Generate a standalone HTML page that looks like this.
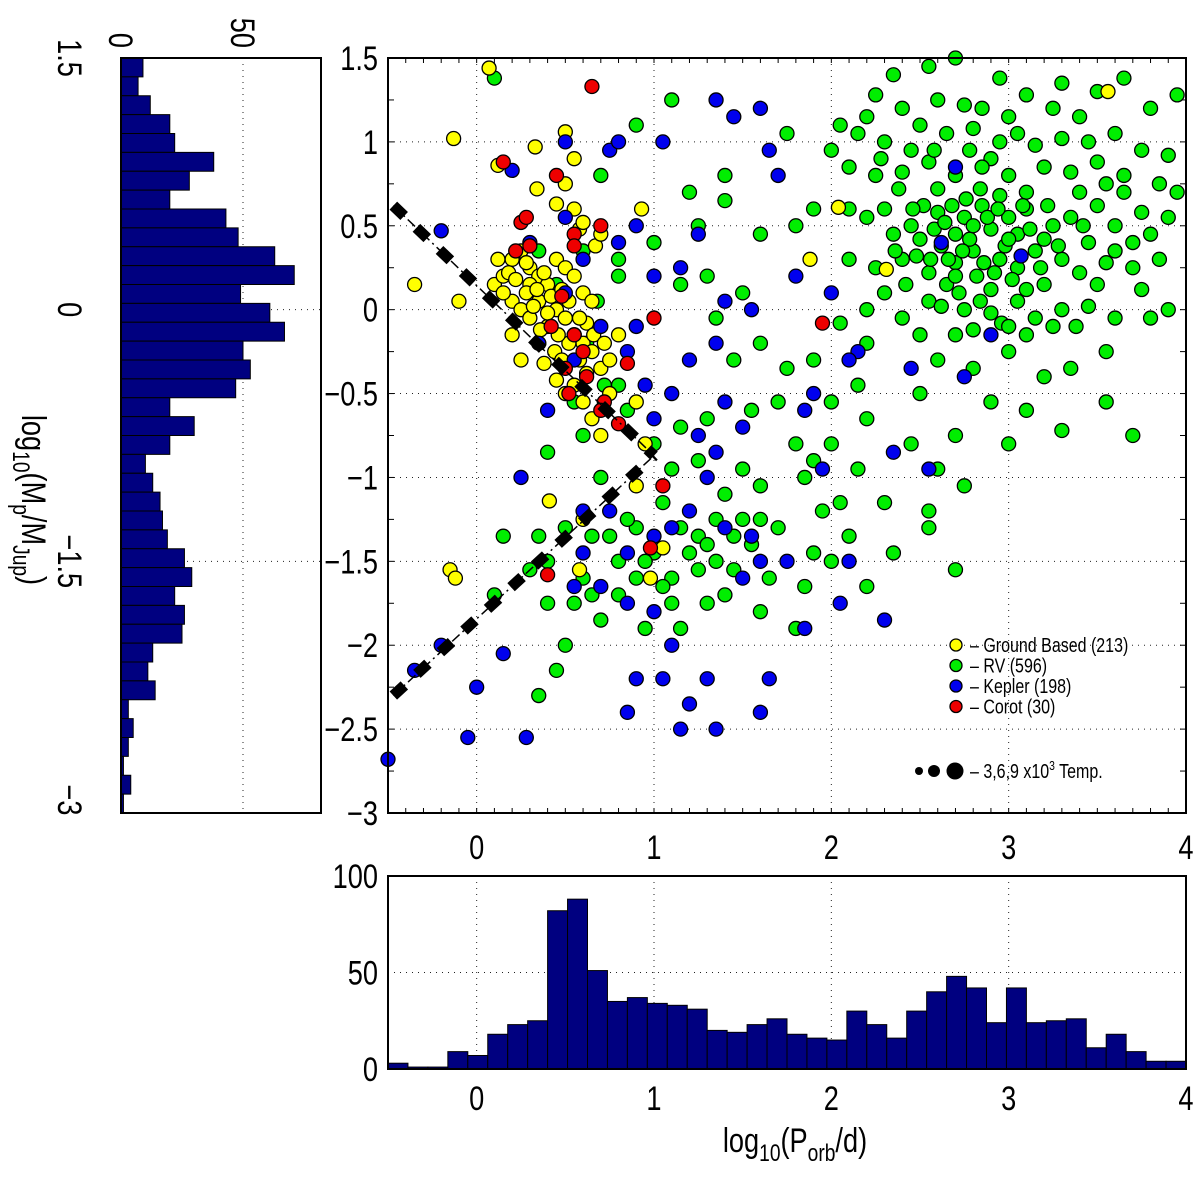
<!DOCTYPE html>
<html><head><meta charset="utf-8"><style>
html,body{margin:0;padding:0;background:#fff;}
svg{display:block;font-family:"Liberation Sans",sans-serif;}
</style></head><body>
<svg id="fig" width="1200" height="1177" viewBox="0 0 1200 1177" xmlns="http://www.w3.org/2000/svg">
<g id="main"></g>
<g id="bottom"></g>
<g id="left"></g>
</svg>
<script>
// ---------- data ----------
const periodHistCounts = [3,1,1,9,7,18,23,25,82,88,51,35,37,34,33,31,20,19,23,26,18,16,15,30,23,16,30,40,48,42,24,42,24,25,26,11,18,9,4,4];
const massHistCounts = [9,7,12,20,22,38,28,20,43,48,63,71,49,61,67,50,53,47,20,30,20,10,13,16,17,19,26,29,22,26,25,13,11,14,3,5,3,1,4,1];
const xTicks = [0,1,2,3,4];
const yTicks = [1.5,1,0.5,0,-0.5,-1,-1.5,-2,-2.5,-3];
const yTickLabels = ["1.5","1","0.5","0","\u22120.5","\u22121","\u22121.5","\u22122","\u22122.5","\u22123"];
const leftTicks = [1.5,0,-1.5,-3];
const leftTickLabels = ["1.5","0","\u22121.5","\u22123"];
const countTicks = [0,50];
const bottomTicks = [0,50,100];
const groundBased = [[0.07,1.44],[-0.13,1.02],[0.12,0.86],[0.33,0.97],[0.5,1.06],[0.55,0.9],[0.34,0.72],[0.5,0.75],[0.55,0.6],[0.45,0.63],[0.58,0.48],[0.6,0.52],[0.67,0.38],[0.7,0.45],[0.93,0.6],[-0.1,0.05],[-0.35,0.15],[0.1,0.15],[0.15,0.2],[0.2,0.3],[0.25,0.35],[0.3,0.25],[0.35,0.2],[0.4,0.15],[0.45,0.3],[0.5,0.25],[0.55,0.2],[0.6,0.1],[0.65,0.05],[0.2,0.05],[0.25,0.0],[0.3,-0.05],[0.35,0.05],[0.4,-0.1],[0.45,0.0],[0.5,-0.05],[0.55,-0.15],[0.6,-0.2],[0.65,-0.25],[0.3,0.15],[0.38,0.22],[0.42,0.08],[0.48,0.12],[0.52,-0.2],[0.58,-0.3],[0.7,-0.35],[0.75,-0.5],[0.45,-0.42],[0.5,-0.5],[0.55,-0.45],[0.6,-0.55],[0.65,-0.65],[0.7,-0.75],[0.9,-0.55],[0.95,-0.8],[0.75,-0.3],[0.8,-0.15],[0.2,-0.15],[0.25,-0.3],[0.35,-0.2],[0.12,0.3],[0.28,0.1],[0.36,-0.12],[0.44,-0.25],[0.62,-0.08],[0.18,0.22],[0.15,0.1],[0.22,0.18],[0.32,0.02],[0.4,-0.02],[0.46,-0.15],[0.52,0.05],[0.58,-0.05],[0.66,-0.15],[0.72,-0.2],[0.38,-0.32],[0.48,-0.3],[0.62,-0.38],[0.28,0.28],[0.34,0.12],[-0.15,-1.55],[-0.12,-1.6],[0.98,-1.6],[0.6,-1.25],[0.41,-1.14],[0.58,-1.55],[0.9,-1.05],[3.56,1.3],[1.88,0.3],[2.04,0.61],[2.31,0.24],[1.05,-1.42]];
const rv = [[2.55,1.45],[2.7,1.5],[2.95,1.38],[3.65,1.38],[3.95,1.28],[2.35,1.4],[3.5,1.3],[2.6,1.25],[2.75,1.22],[2.85,1.2],[3.1,1.28],[3.25,1.2],[2.4,1.2],[2.2,1.15],[3.4,1.15],[3.8,1.2],[2.15,1.05],[2.3,1.0],[2.5,1.1],[2.65,1.05],[2.8,1.08],[2.95,1.0],[3.05,1.05],[3.15,0.98],[3.3,1.02],[3.45,1.0],[3.6,1.05],[3.75,0.95],[3.9,0.92],[2.0,0.95],[2.45,0.95],[2.9,0.9],[2.1,0.85],[2.25,0.8],[2.4,0.82],[2.55,0.88],[2.7,0.8],[2.85,0.85],[3.0,0.8],[3.2,0.85],[3.35,0.82],[3.5,0.88],[3.65,0.8],[3.85,0.75],[2.6,0.72],[3.1,0.7],[3.4,0.7],[2.95,0.68],[2.1,0.6],[2.2,0.55],[2.3,0.6],[2.45,0.5],[2.6,0.58],[2.75,0.55],[2.85,0.62],[3.0,0.55],[3.1,0.6],[3.25,0.5],[3.35,0.55],[3.5,0.62],[3.6,0.5],[3.75,0.58],[3.9,0.55],[2.5,0.42],[2.7,0.45],[2.9,0.48],[3.2,0.42],[3.45,0.4],[3.7,0.4],[2.35,0.45],[3.05,0.45],[2.1,0.3],[2.25,0.25],[2.4,0.3],[2.55,0.22],[2.7,0.28],[2.8,0.35],[2.95,0.3],[3.05,0.25],[3.15,0.35],[3.3,0.3],[3.4,0.22],[3.55,0.28],[3.7,0.25],[3.85,0.3],[2.65,0.15],[2.9,0.12],[3.2,0.15],[3.5,0.15],[3.75,0.12],[2.3,0.1],[2.2,0.0],[2.4,-0.05],[2.55,0.05],[2.75,0.0],[2.9,-0.02],[3.05,0.05],[3.15,-0.05],[3.3,0.0],[3.45,0.02],[3.6,-0.05],[3.9,0.0],[2.05,-0.08],[3.25,-0.1],[2.62,0.38],[2.68,0.62],[2.78,0.42],[2.82,0.2],[2.88,0.55],[2.98,0.38],[3.02,0.18],[2.72,0.1],[2.58,0.48],[2.48,0.32],[2.42,0.15],[2.52,0.62],[3.08,0.62],[3.12,0.48],[2.84,0.72],[2.76,0.66],[2.66,0.3],[2.92,0.22],[3.18,0.25],[2.64,0.52],[2.74,0.35],[2.86,0.28],[2.94,0.6],[2.56,0.3],[2.46,0.6],[2.36,0.35],[2.8,0.5],[2.7,0.2],[3.0,0.42],[3.1,0.12],[3.22,0.62],[3.28,0.38],[3.42,0.5],[3.6,0.35],[3.8,0.45],[2.58,0.95],[2.78,0.95],[3.0,1.15],[2.62,0.02],[2.84,0.05],[2.96,-0.08],[3.1,-0.15],[2.7,-0.15],[2.38,0.72],[2.28,0.9],[3.55,0.75],[3.95,0.7],[2.5,-0.15],[2.8,-0.12],[3.0,-0.1],[3.38,-0.1],[2.6,-0.3],[2.8,-0.35],[3.0,-0.25],[3.2,-0.4],[3.35,-0.35],[3.55,-0.55],[2.5,-0.5],[2.9,-0.55],[3.1,-0.6],[2.7,-0.75],[3.0,-0.8],[3.3,-0.72],[3.7,-0.75],[2.45,-0.8],[2.6,-0.95],[2.75,-1.05],[2.55,-1.2],[2.15,-0.45],[2.2,-0.65],[2.0,-0.8],[1.9,-0.9],[0.1,1.38],[1.1,1.25],[0.7,0.8],[1.2,0.7],[0.6,0.35],[0.8,0.3],[1.0,0.4],[1.15,0.15],[1.3,0.2],[1.35,-0.05],[1.5,0.1],[1.45,-0.3],[1.6,-0.2],[1.75,-0.35],[1.7,-0.55],[1.55,-0.6],[1.3,-0.65],[1.25,-0.9],[1.4,-1.1],[1.5,-0.95],[1.6,-1.05],[1.8,-0.8],[1.85,-1.0],[1.95,-1.2],[1.7,-1.3],[1.55,-1.4],[1.45,-1.55],[1.2,-1.45],[1.1,-1.6],[1.0,-1.45],[0.9,-1.6],[0.8,-1.7],[0.7,-1.85],[0.6,-1.6],[0.55,-1.75],[0.5,-2.0],[0.35,-2.3],[0.4,-1.5],[0.5,-1.3],[0.3,-1.55],[0.95,-1.9],[1.15,-1.9],[1.3,-1.75],[1.6,-1.8],[1.8,-1.9],[1.85,-1.65],[2.0,-1.5],[2.2,-1.65],[2.35,-1.45],[2.55,-1.3],[2.1,-1.35],[0.9,-1.3],[1.05,-1.15],[1.1,-0.95],[0.7,-1.0],[0.6,-0.75],[0.8,-0.45],[0.4,-0.85],[0.75,-1.35],[1.25,-1.35],[1.35,-1.5],[2.7,-1.55],[2.3,-1.15],[2.15,-0.95],[2.0,-0.55],[1.8,0.5],[1.9,0.6],[1.6,0.45],[1.4,0.65],[1.25,0.5],[0.9,1.1],[1.4,0.8],[0.4,-1.75],[0.45,-2.15],[0.1,-1.7],[0.15,-1.35],[0.35,-1.35],[0.62,-0.2],[0.68,0.05],[0.72,-0.45],[0.55,-0.55],[0.45,0.15],[0.35,0.35],[0.8,0.2],[0.85,-0.6],[1.0,-0.8],[1.15,-0.7],[1.05,-1.65],[1.35,-1.25],[1.5,-1.25],[1.65,-1.6],[0.65,-1.35],[0.8,-1.5],[1.9,-1.45],[2.05,-1.15],[1.9,-0.3],[2.2,-0.2],[3.55,-0.25],[3.8,-0.05],[3.65,0.7],[3.3,1.35],[2.25,1.28],[1.75,1.05],[2.05,1.1],[1.15,-1.3],[1.3,-1.4],[1.45,-1.35],[1.6,-1.25],[1.25,-1.55],[0.95,-1.5],[0.85,-1.25],[1.1,-1.75],[1.4,-1.7],[0.65,-1.7]];
const kepler = [[0.2,0.83],[0.5,1.0],[0.75,0.95],[0.8,1.0],[1.05,1.0],[1.35,1.25],[1.45,1.15],[1.6,1.2],[1.65,0.95],[1.7,0.8],[0.9,0.5],[0.8,0.4],[1.0,0.2],[1.15,0.25],[1.2,-0.3],[1.35,-0.2],[1.55,0.0],[1.8,0.2],[2.0,0.1],[2.15,-0.25],[2.1,-0.3],[1.9,-0.5],[-0.2,0.47],[0.5,0.55],[0.6,0.3],[0.3,0.4],[0.5,0.1],[0.55,-0.3],[0.7,-0.1],[0.85,-0.25],[0.9,-0.1],[1.1,-0.5],[1.0,-0.65],[0.95,-0.45],[1.25,-0.75],[1.35,-0.85],[1.5,-0.7],[1.4,-0.55],[1.3,-1.0],[1.2,-1.2],[1.1,-1.3],[1.0,-1.35],[0.85,-1.45],[0.75,-1.2],[0.6,-1.45],[0.55,-1.65],[0.7,-1.65],[0.85,-1.75],[1.0,-1.8],[1.1,-2.0],[0.9,-2.2],[0.85,-2.4],[1.05,-2.2],[1.2,-2.35],[1.3,-2.2],[1.6,-2.4],[1.65,-2.2],[1.85,-1.9],[1.5,-1.6],[1.6,-1.5],[1.4,-1.3],[1.75,-1.5],[2.05,-1.75],[2.3,-1.85],[0.0,-2.25],[-0.2,-2.0],[0.15,-2.05],[-0.5,-2.68],[-0.05,-2.55],[0.28,-2.55],[1.15,-2.5],[1.35,-2.5],[-0.35,-2.15],[1.55,-1.35],[1.95,-0.95],[2.35,-0.85],[2.55,-0.95],[2.45,-0.35],[2.75,-0.4],[2.9,-0.15],[2.62,0.4],[3.07,0.32],[2.7,0.85],[1.4,0.05],[1.25,0.45],[1.85,-0.6],[2.1,-1.5],[0.4,-0.6],[0.35,-0.2],[0.6,-1.2],[0.25,-1.0]];
const corot = [[0.65,1.33],[0.45,0.8],[0.15,0.88],[0.25,0.52],[0.28,0.55],[0.55,0.45],[0.55,0.38],[0.22,0.35],[0.3,0.38],[0.7,0.5],[0.48,0.08],[0.55,-0.15],[0.6,-0.25],[0.5,-0.35],[0.62,-0.4],[0.52,-0.5],[0.72,-0.55],[0.85,-0.32],[1.0,-0.05],[1.05,-1.05],[0.98,-1.42],[0.4,-1.58],[1.95,-0.08],[0.7,-0.6],[0.8,-0.68],[0.42,-0.1]];
const upperLine = [[-0.47,0.62],[1.0,-0.87]];
const lowerLine = [[-0.47,-2.3],[1.0,-0.87]];
const legendLabels = ["\u2013 Ground Based (213)","\u2013 RV (596)","\u2013 Kepler (198)","\u2013 Corot (30)"];
const legendColors = ["#ffff00","#00ee00","#0000ee","#ee0000"];

// ---------- scales ----------
const X0=388,X1=1186,Y0=58,Y1=813;
const sx = v => X0 + (v+0.5)/4.5*(X1-X0);
const sy = v => Y0 + (1.5-v)/4.5*(Y1-Y0);
const BY0=876,BY1=1069;
const sby = c => BY1 - c/100*(BY1-BY0);
const LX0=121,LX1=321;
const slx = c => LX0 + c*2.44;
const FS=34, SXF=0.8;

const NS="http://www.w3.org/2000/svg";
function mk(parent,tag,attrs){const e=document.createElementNS(NS,tag);for(const k in attrs)e.setAttribute(k,attrs[k]);parent.appendChild(e);return e;}
function txt(parent,x,y,anchor,size,str,rot){const e=mk(parent,'text',{x:0,y:0,"text-anchor":anchor,"font-size":size,transform:`translate(${x},${y})${rot?' rotate(90)':''} scale(${SXF},1)`});e.textContent=str;return e;}
const main=document.getElementById('main'),bottom=document.getElementById('bottom'),left=document.getElementById('left');
const grid={stroke:"#222","stroke-width":1,"stroke-dasharray":"1 5"};

// ---------- main panel ----------
xTicks.forEach(t=>{const l=mk(main,'line',Object.assign({x1:sx(t),x2:sx(t),y1:Y0,y2:Y1},grid));

});
yTicks.forEach(t=>{const l=mk(main,'line',Object.assign({x1:X0,x2:X1,y1:sy(t),y2:sy(t)},grid));

});
for(let i=1;i<45;i++){const v=-0.5+i*0.1;const xx=sx(v);
 const a=mk(main,'line',{x1:xx,x2:xx,y1:Y0,y2:Y0+5,stroke:"#000","stroke-width":1});
 
 
 const b=mk(main,'line',{x1:xx,x2:xx,y1:Y1,y2:Y1-5,stroke:"#000","stroke-width":1});
 
 }
for(let i=1;i<18;i++){const v=1.5-i*0.25;const yy=sy(v);
 const a=mk(main,'line',{x1:X0,x2:X0+6,y1:yy,y2:yy,stroke:"#000","stroke-width":1});
 
 
 const b=mk(main,'line',{x1:X1,x2:X1-6,y1:yy,y2:yy,stroke:"#000","stroke-width":1});
 
 }

function drawPts(arr,color,name,r){arr.forEach(p=>{const c=mk(main,'circle',{cx:sx(p[0]),cy:sy(p[1]),r:r,fill:color,stroke:"#000","stroke-width":1.3});

});}
drawPts(rv,"#00ee00","rv-planet",7);
drawPts(groundBased,"#ffff00","ground-based-planet",7);
drawPts(kepler,"#0000ee","kepler-planet",7);
drawPts(corot,"#ee0000","corot-planet",7);

function drawLine(seg,name){const a={x1:sx(seg[0][0]),y1:sy(seg[0][1]),x2:sx(seg[1][0]),y2:sy(seg[1][1])};
 const t=mk(main,'line',Object.assign({stroke:"#000","stroke-width":1.5,"stroke-dasharray":"10 4 2 4"},a));
 
 
 const k=mk(main,'line',Object.assign({stroke:"#000","stroke-width":11,"stroke-dasharray":"15 17"},a));
 
 }
drawLine(upperLine,'upper-boundary-line');
drawLine(lowerLine,'lower-boundary-line');

const box=mk(main,'rect',{x:X0,y:Y0,width:X1-X0,height:Y1-Y0,fill:"none",stroke:"#000","stroke-width":2});


yTicks.forEach((t,i)=>{const e=txt(main,378,sy(t)+12,"end",FS,yTickLabels[i]);

});
xTicks.forEach(t=>{const e=txt(main,sx(t),859,"middle",FS,String(t));

});
// legend
legendLabels.forEach((lab,i)=>{const yy=645+i*20.5;
 const c=mk(main,'circle',{cx:956,cy:yy,r:6,fill:legendColors[i],stroke:"#000","stroke-width":1.3});
 
 
 const t=txt(main,970,yy+7,"start",20,lab);
 
 });
[[919,4],[934,6],[955,8.5]].forEach(d=>{const c=mk(main,'circle',{cx:d[0],cy:771,r:d[1],fill:"#000"});

});
const tl=mk(main,'text',{x:0,y:0,"font-size":20,transform:`translate(970,778) scale(${SXF},1)`});tl.innerHTML='\u2013 3,6,9 x10<tspan dy="-8" font-size="13">3</tspan><tspan dy="8"> Temp.</tspan>';



// ---------- bottom histogram ----------
const bw=(X1-X0)/periodHistCounts.length;
xTicks.forEach(t=>{const l=mk(bottom,'line',Object.assign({x1:sx(t),x2:sx(t),y1:BY0,y2:BY1},grid));

});
const g50=mk(bottom,'line',Object.assign({x1:X0,x2:X1,y1:sby(50),y2:sby(50)},grid));


periodHistCounts.forEach((c,i)=>{const r=mk(bottom,'rect',{x:X0+i*bw,y:sby(c),width:bw,height:BY1-sby(c),fill:"#000080",stroke:"#000","stroke-width":1});

});
const bbox=mk(bottom,'rect',{x:X0,y:BY0,width:X1-X0,height:BY1-BY0,fill:"none",stroke:"#000","stroke-width":2});


bottomTicks.forEach(t=>{const e=txt(bottom,378,sby(t)+12,"end",FS,String(t));

});
xTicks.forEach(t=>{const e=txt(bottom,sx(t),1110,"middle",FS,String(t));

});
const xt=mk(bottom,'text',{x:0,y:0,"text-anchor":"middle","font-size":FS,transform:`translate(795,1152) scale(${SXF},1)`});
xt.innerHTML='log<tspan dy="9" font-size="24">10</tspan><tspan dy="-9">(P</tspan><tspan dy="9" font-size="24">orb</tspan><tspan dy="-9">/d)</tspan>';



// ---------- left histogram ----------
const bh=(Y1-Y0)/massHistCounts.length;
const lg=mk(left,'line',Object.assign({x1:slx(50),x2:slx(50),y1:Y0,y2:Y1},grid));


[0,-1.5].forEach(t=>{const l=mk(left,'line',Object.assign({x1:LX0,x2:LX1,y1:sy(t),y2:sy(t)},grid));

});
massHistCounts.forEach((c,i)=>{const r=mk(left,'rect',{x:LX0,y:Y0+i*bh,width:slx(c)-LX0,height:bh,fill:"#000080",stroke:"#000","stroke-width":1});

});
const lbox=mk(left,'rect',{x:LX0,y:Y0,width:LX1-LX0,height:Y1-Y0,fill:"none",stroke:"#000","stroke-width":2});


countTicks.forEach(t=>{const x=slx(t);const e=txt(left,x-12,48,"end",FS,String(t),true);

});
leftTicks.forEach((t,i)=>{const e=txt(left,58,Math.min(Math.max(sy(t),42),800),"middle",FS,leftTickLabels[i],true);

});
const yt=mk(left,'text',{x:0,y:0,"font-size":FS,"text-anchor":"middle",transform:`translate(22,500) rotate(90) scale(${SXF},1)`});
yt.innerHTML='log<tspan dy="9" font-size="24">10</tspan><tspan dy="-9">(M</tspan><tspan dy="9" font-size="24">p</tspan><tspan dy="-9">/M</tspan><tspan dy="9" font-size="24">Jup</tspan><tspan dy="-9">)</tspan>';


</script>
</body></html>
